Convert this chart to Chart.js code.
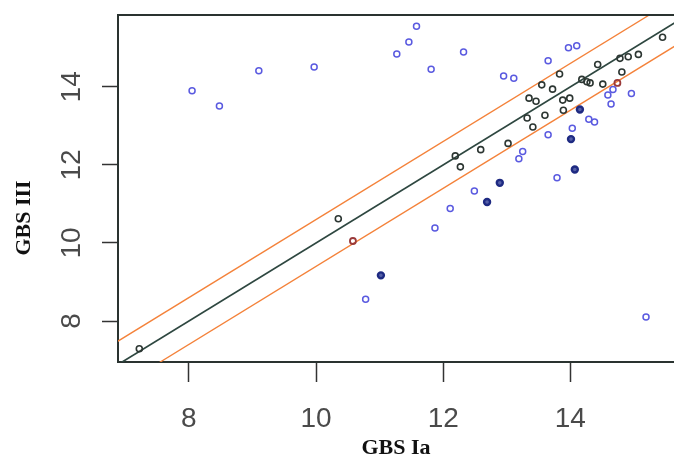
<!DOCTYPE html>
<html>
<head>
<meta charset="utf-8">
<script src="https://cdn.jsdelivr.net/npm/chart.js@4"></script>
<style>
    html, body { margin: 0; padding: 0; background: #fff; overflow: hidden; }
    #wrap { width: 674px; height: 462px; }
</style>
</head>
<body>
<div id="wrap"><canvas id="gbsChart" width="674" height="462"></canvas></div>
<script>
// Tick positions on both axes
const xTicks = [8, 10, 12, 14];
const yTicks = [8, 10, 12, 14];

// Open blue circles
const blueX = [8.05, 8.48, 9.10, 9.97, 11.27, 11.46, 11.58, 11.81, 12.32, 13.65, 13.97, 14.10, 12.95, 13.11, 14.67,
    14.59, 14.64, 14.96, 14.29, 14.38, 14.03, 13.65, 13.25, 13.19, 13.79, 12.49, 12.11, 11.87, 10.78, 15.19];
const blueY = [13.90, 13.51, 14.41, 14.51, 14.84, 15.15, 15.55, 14.45, 14.89, 14.67, 15.00, 15.05, 14.28, 14.22, 13.93,
    13.79, 13.56, 13.83, 13.17, 13.10, 12.94, 12.77, 12.34, 12.16, 11.67, 11.33, 10.88, 10.38, 8.56, 8.10];

// Dark circles (close to the line)
const blackX = [7.22, 10.35, 12.19, 12.27, 12.59, 13.02, 13.32, 13.41, 13.60, 13.89, 13.35, 13.46, 13.88, 13.99,
    13.55, 13.72, 13.83, 14.18, 14.26, 14.31, 14.51, 14.43, 14.81, 14.78, 14.91, 15.07, 15.45];
const blackY = [7.29, 10.62, 12.23, 11.95, 12.39, 12.55, 13.20, 12.97, 13.27, 13.40, 13.71, 13.63, 13.66, 13.71,
    14.05, 13.94, 14.33, 14.19, 14.13, 14.10, 14.07, 14.57, 14.38, 14.73, 14.77, 14.83, 15.27];

// Heavy navy circles
const navyX = [11.02, 12.69, 12.89, 14.07, 14.01, 14.15];
const navyY = [9.17, 11.05, 11.54, 11.88, 12.66, 13.42];

// Reddish circles
const redX = [10.58, 14.74];
const redY = [10.05, 14.10];

// Identity line and the two limits around it
const lineX = [6.5, 16.5];
const fitY = [6.5, 16.5];
const upperY = [7.1, 17.1];
const lowerY = [5.9, 15.9];

function toPoints(xs, ys) {
    return xs.map((x, i) => ({ x: x, y: ys[i] }));
}

function pointSet(xs, ys, color, width, fill) {
    return {
        data: toPoints(xs, ys),
        pointStyle: 'circle',
        pointRadius: 3,
        pointBorderWidth: width,
        pointBorderColor: color,
        pointBackgroundColor: fill,
        showLine: false,
        order: 1
    };
}

function lineSet(xs, ys, color, width) {
    return {
        data: toPoints(xs, ys),
        showLine: true,
        borderColor: color,
        borderWidth: width,
        pointRadius: 0,
        fill: false,
        order: 5
    };
}

// top edge of the box and the rotated y title (R puts it lower than centre here)
const frameExtras = {
    id: 'frameExtras',
    afterDraw(chart) {
        const a = chart.chartArea;
        const c = chart.ctx;
        c.save();
        c.strokeStyle = '#2a3330';
        c.lineWidth = 2;
        c.beginPath();
        c.moveTo(a.left, a.top);
        c.lineTo(a.right + 2, a.top);
        c.stroke();

        c.translate(24, 218);
        c.rotate(-Math.PI / 2);
        c.fillStyle = '#111';
        c.font = 'bold 22px "Liberation Serif"';
        c.textAlign = 'center';
        c.textBaseline = 'middle';
        c.fillText('GBS III', 0, 0);
        c.restore();
    }
};

const ctx = document.getElementById('gbsChart');

new Chart(ctx, {
    type: 'scatter',
    data: {
        datasets: [
            pointSet(blueX, blueY, '#5a5ae0', 1.5, 'rgba(0,0,0,0)'),
            pointSet(blackX, blackY, '#2c3632', 1.6, 'rgba(0,0,0,0)'),
            pointSet(navyX, navyY, '#1e2a82', 2.4, '#5560a8'),
            pointSet(redX, redY, '#9a3a3a', 1.8, 'rgba(0,0,0,0)'),
            lineSet(lineX, upperY, '#f4823a', 1.3),
            lineSet(lineX, lowerY, '#f4823a', 1.3),
            lineSet(lineX, fitY, '#2e4740', 1.7)
        ]
    },
    options: {
        responsive: false,
        animation: false,
        layout: {
            autoPadding: false,
            padding: { top: 15, right: 0, left: 0, bottom: 0 }
        },
        plugins: {
            legend: { display: false },
            tooltip: { enabled: false }
        },
        scales: {
            x: {
                type: 'linear',
                min: 6.885,
                max: 15.63,
                afterBuildTicks: (scale) => { scale.ticks = xTicks.map(v => ({ value: v })); },
                afterFit: (scale) => {
                    scale.height = 100;
                    scale.paddingLeft = 0;
                    scale.paddingRight = 0;
                },
                border: { display: true, color: '#2a3330', width: 2 },
                grid: {
                    display: true,
                    drawOnChartArea: false,
                    drawTicks: true,
                    tickLength: 20,
                    tickColor: '#333',
                    tickWidth: 1.5
                },
                ticks: {
                    color: '#4a4a4a',
                    padding: 20,
                    font: { family: 'Liberation Sans', size: 28 },
                    maxRotation: 0
                },
                title: {
                    display: true,
                    text: 'GBS Ia',
                    color: '#111',
                    font: { family: 'Liberation Serif', size: 22, weight: 'bold' },
                    padding: { top: 0, bottom: 0 }
                }
            },
            y: {
                type: 'linear',
                min: 6.95,
                max: 15.84,
                afterBuildTicks: (scale) => { scale.ticks = yTicks.map(v => ({ value: v })); },
                afterFit: (scale) => {
                    scale.width = 118;
                    scale.paddingTop = 0;
                    scale.paddingBottom = 0;
                },
                border: { display: true, color: '#2a3330', width: 2 },
                grid: {
                    display: true,
                    drawOnChartArea: false,
                    drawTicks: true,
                    tickLength: 16,
                    tickColor: '#333',
                    tickWidth: 1.5
                },
                ticks: {
                    color: '#4a4a4a',
                    padding: 14,
                    minRotation: 90,
                    maxRotation: 90,
                    crossAlign: 'center',
                    font: { family: 'Liberation Sans', size: 28 }
                },
                title: { display: false }
            }
        }
    },
    plugins: [frameExtras]
});
</script>
</body>
</html>
